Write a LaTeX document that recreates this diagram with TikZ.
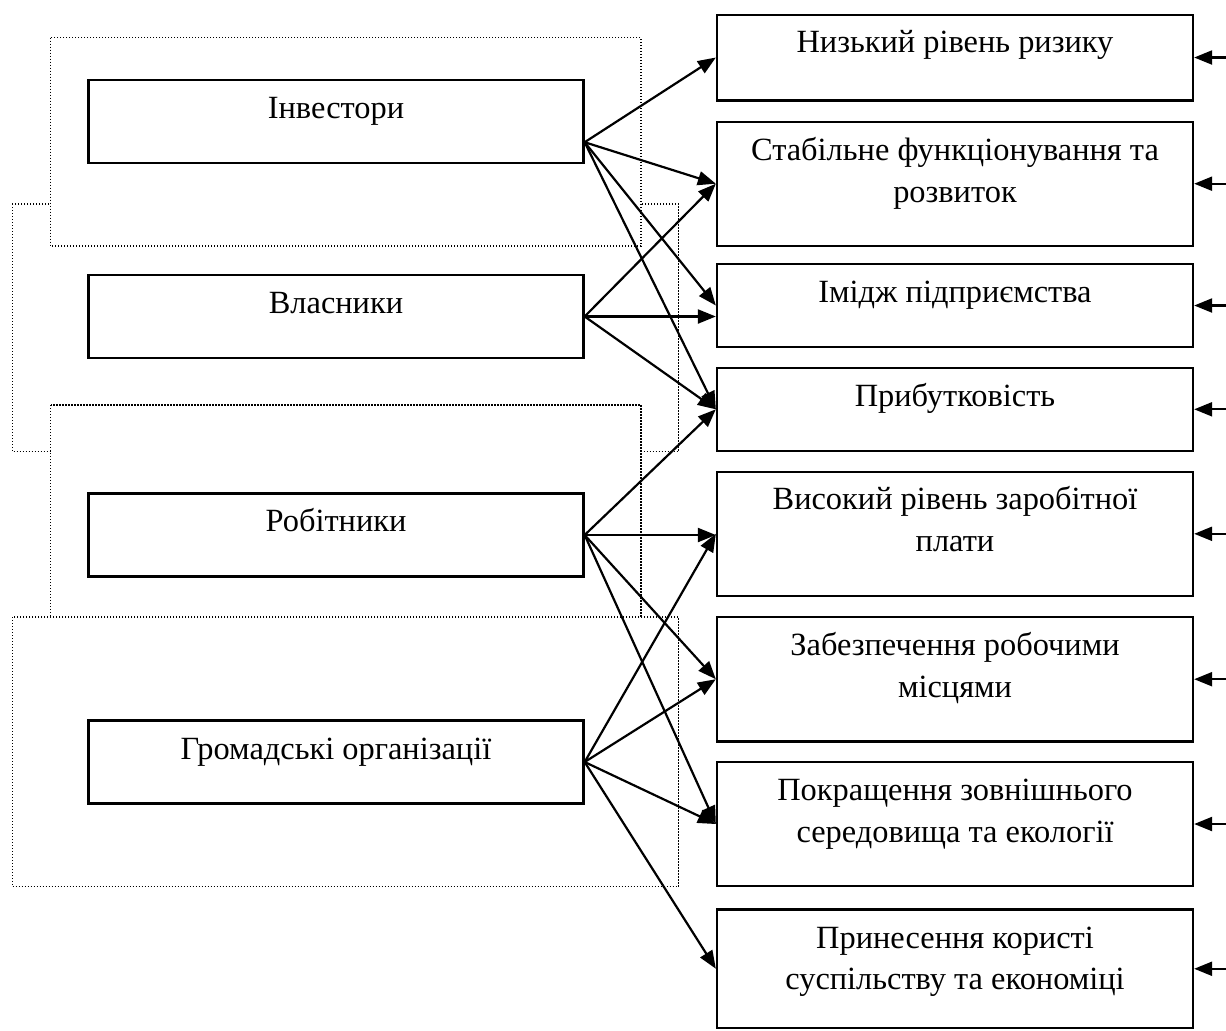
\documentclass[tikz,border=0pt]{standalone}
\usepackage{fontspec}
\setmainfont{Liberation Serif}
\usetikzlibrary{arrows.meta,calc}
\begin{document}
\begin{tikzpicture}[x=0.5pt,y=-0.5pt,
  dotbox/.style={draw=black, line width=0.65pt, dash pattern=on 0.65pt off 0.85pt, fill=white},
  lbox/.style={draw, line width=1.15pt, fill=white, minimum width=247.5pt, minimum height=41.5pt, inner sep=0pt},
  rbox/.style={draw, line width=1.15pt, fill=white, minimum width=238pt, inner sep=0pt},
  lbl/.style={font=\fontsize{16.2pt}{21pt}\selectfont, anchor=base, inner sep=0pt},
  arr/.style={line width=1.1pt, -{Triangle[length=9pt,width=7pt]}}
]
\useasboundingbox (0,0) rectangle (1226,1030);

% dotted group frames
\draw[dotbox] (12.4,204) rectangle (678.6,451.7);
\draw[dotbox] (50.5,37.7) rectangle (641,246);
\draw[dotbox] (50.5,405) rectangle (641,640);
\draw[dotbox] (12.4,617) rectangle (678.6,886.7);

% left boxes
\node[lbox] (inv) at (336,121.5) {};
\node[lbox] (vl) at (336,316.5) {};
\node[lbox] (rob) at (336,535) {};
\node[lbox] (grom) at (336,762) {};
\node[lbl] (tinv) at ($(inv.north)+(0,40)$) {Інвестори};
\node[lbl] (tvl) at ($(vl.north)+(0,40)$) {Власники};
\node[lbl] (trob) at ($(rob.north)+(0,39)$) {Робітники};
\node[lbl] (tgrom) at ($(grom.north)+(0,40)$) {Громадські організації};

% right boxes
\node[rbox, minimum height=42.85pt] (r1) at (955,57.5) {};
\node[rbox, minimum height=62pt] (r2) at (955,183.7) {};
\node[rbox, minimum height=41.25pt] (r3) at (955,305.5) {};
\node[rbox, minimum height=41.35pt] (r4) at (955,409.3) {};
\node[rbox, minimum height=62.15pt] (r5) at (955,533.8) {};
\node[rbox, minimum height=62.25pt] (r6) at (955,679.2) {};
\node[rbox, minimum height=62pt] (r7) at (955,824) {};
\node[rbox, minimum height=59.25pt] (r8) at (955,968.75) {};

\node[lbl] (t1) at ($(r1.north)+(0,39)$) {Низький рівень ризику};
\node[lbl] (t2a) at ($(r2.north)+(0,40)$) {Стабільне функціонування та};
\node[lbl] (t2b) at ($(r2.north)+(0,82)$) {розвиток};
\node[lbl] (t3) at ($(r3.north)+(0,39)$) {Імідж підприємства};
\node[lbl] (t4) at ($(r4.north)+(0,40)$) {Прибутковість};
\node[lbl] (t5a) at ($(r5.north)+(0,39)$) {Високий рівень заробітної};
\node[lbl] (t5b) at ($(r5.north)+(0,81)$) {плати};
\node[lbl] (t6a) at ($(r6.north)+(0,40)$) {Забезпечення робочими};
\node[lbl] (t6b) at ($(r6.north)+(0,82)$) {місцями};
\node[lbl] (t7a) at ($(r7.north)+(0,40)$) {Покращення зовнішнього};
\node[lbl] (t7b) at ($(r7.north)+(0,82)$) {середовища та екології};
\node[lbl] (t8a) at ($(r8.north)+(0,40)$) {Принесення користі};
\node[lbl] (t8b) at ($(r8.north)+(0,81)$) {суспільству та економіці};

% sources
\coordinate (invs) at ($(inv.north east)!0.743!(inv.south east)$);

% connectors
\draw[arr] (invs) -- (r1.west);
\draw[arr] (invs) -- (r2.west);
\draw[arr] (invs) -- (r3.west);
\draw[arr] (invs) -- (r4.west);

\draw[arr] (vl.east) -- (r2.west);
\draw[arr] (vl.east) -- (r3.west |- vl.east);
\draw[arr] (vl.east) -- (r4.west);

\draw[arr] (rob.east) -- (r4.west);
\draw[arr] (rob.east) -- (r5.west |- rob.east);
\draw[arr] (rob.east) -- (r6.west);
\draw[arr] (rob.east) -- (r7.west);

\draw[arr] (grom.east) -- (r5.west);
\draw[arr] (grom.east) -- (r6.west);
\draw[arr] (grom.east) -- (r7.west);
\draw[arr] (grom.east) -- (r8.west);

% arrows entering from the right edge
\foreach \i in {1,...,8} {
  \coordinate (e\i) at ($(r\i.east)+(34,0)$);
  \draw[arr] (e\i) -- (r\i.east);
}
\end{tikzpicture}
\end{document}
